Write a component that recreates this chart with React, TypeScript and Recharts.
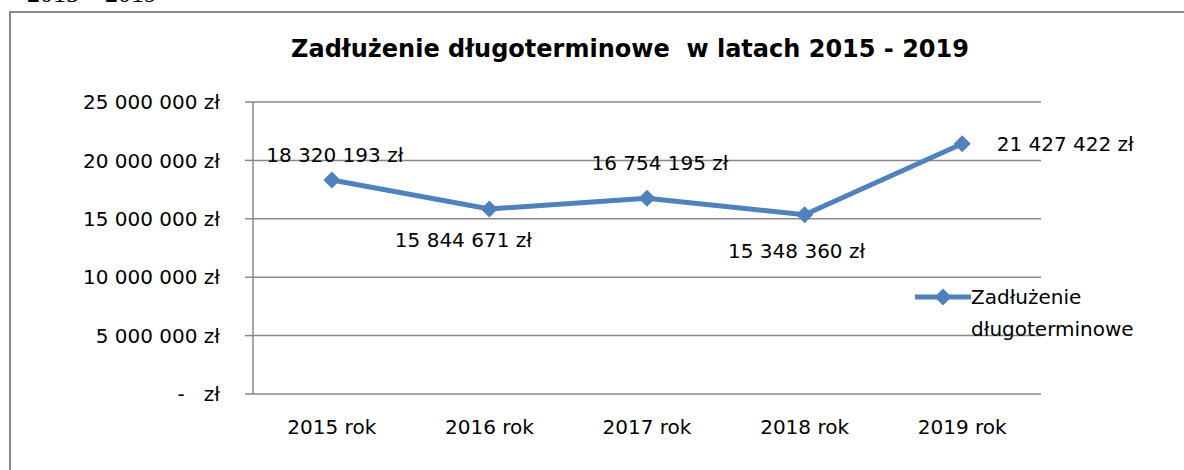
import React from "react"
import { LineChart, Line, XAxis, YAxis, CartesianGrid, Legend, LabelList } from "recharts"

const YEARS = ["2015 rok", "2016 rok", "2017 rok", "2018 rok", "2019 rok"]
const DEBT = [18320193, 15844671, 16754195, 15348360, 21427422]
const Y_TICKS = [0, 5000000, 10000000, 15000000, 20000000, 25000000]
const SERIES_NAME = "Zadłużenie długoterminowe"
const TITLE = "Zadłużenie długoterminowe  w latach 2015 - 2019"

// label positions were dragged by hand in the original, so keep offsets per point
const LABEL_OFFSETS = [
  [3, -25],
  [-26, 31],
  [13, -35],
  [-8, 36],
  [103, 0],
]

const BLUE = "#4f81bd"
const GRID = "#8a8a8a"
const FONT = "'DejaVu Sans', sans-serif"

const data = YEARS.map((year, i) => ({ pos: i + 0.5, year, debt: DEBT[i] }))

const fmt = (v: number) => String(v).replace(/\B(?=(\d{3})+(?!\d))/g, " ")
const yLabel = (v: number) => (v === 0 ? "-\u00a0\u00a0\u00a0zł" : `${fmt(v)} zł`)

function Diamond(props: any) {
  const { cx, cy } = props
  if (cx == null || cy == null) return null
  const r = 8.5
  return <polygon points={`${cx},${cy - r} ${cx + r},${cy} ${cx},${cy + r} ${cx - r},${cy}`} fill={BLUE} />
}

function PointLabel(props: any) {
  const { x, y, index, value } = props
  const [dx, dy] = LABEL_OFFSETS[index] ?? [0, -20]
  return (
    <text x={x + dx} y={y + dy} textAnchor="middle" dominantBaseline="central" fontSize={20} fill="#000">
      {`${fmt(value)} zł`}
    </text>
  )
}

function LegendBox() {
  return (
    <div style={{ display: "flex", alignItems: "flex-start", fontFamily: FONT, fontSize: 20, color: "#000" }}>
      <svg width={56} height={32} style={{ flex: "none" }}>
        <line x1={0} y1={16} x2={56} y2={16} stroke={BLUE} strokeWidth={5} />
        <polygon points="28,7.5 36.5,16 28,24.5 19.5,16" fill={BLUE} />
      </svg>
      <div style={{ lineHeight: "32px", width: 190 }}>{SERIES_NAME}</div>
    </div>
  )
}

export default function App() {
  return (
    <div style={{ position: "absolute", left: 0, top: 0, width: 1184, height: 470, overflow: "hidden", background: "#fff" }}>
      <div style={{ position: "absolute", left: 27, top: -19, fontFamily: "'Liberation Serif', serif", fontSize: 26, lineHeight: "26px", whiteSpace: "pre" }}>
        2015 – 2019
      </div>
      <div style={{ position: "absolute", left: 9, top: 11, width: 1300, height: 600, borderLeft: `2px solid ${GRID}`, borderTop: `2px solid ${GRID}` }} />
      <div style={{ position: "absolute", left: 630, top: 37, transform: "translateX(-50%)", fontFamily: FONT, fontWeight: "bold", fontSize: 24, lineHeight: "24px", whiteSpace: "pre" }}>
        {TITLE}
      </div>
      <div style={{ position: "absolute", left: 0, top: 0, fontFamily: FONT }}>
        <LineChart width={1184} height={470} data={data} margin={{ top: 102, right: 143, left: 8, bottom: 0 }}>
          <CartesianGrid vertical={false} xAxisId="sep" stroke={GRID} strokeWidth={1.5} />
          <XAxis
            xAxisId="sep"
            type="number"
            dataKey="pos"
            domain={[0, 5]}
            allowDataOverflow
            ticks={[0, 1, 2, 3, 4, 5]}
            height={0}
            tickSize={8}
            tickFormatter={() => ""}
            axisLine={{ stroke: GRID, strokeWidth: 1.5 }}
            tickLine={{ stroke: GRID, strokeWidth: 1.5 }}
          />
          <XAxis
            xAxisId="cat"
            type="number"
            dataKey="pos"
            domain={[0, 5]}
            allowDataOverflow
            ticks={[0.5, 1.5, 2.5, 3.5, 4.5]}
            height={76}
            axisLine={false}
            tickLine={false}
            tickSize={0}
            tickMargin={26}
            tickFormatter={(v: number) => YEARS[Math.floor(v)] ?? ""}
            tick={{ fill: "#000", fontSize: 20 }}
          />
          <YAxis
            width={245}
            domain={[0, 25000000]}
            ticks={Y_TICKS}
            tickSize={8}
            tickMargin={25}
            tickFormatter={yLabel}
            tick={{ fill: "#000", fontSize: 20 }}
            axisLine={{ stroke: GRID, strokeWidth: 1.5 }}
            tickLine={{ stroke: GRID, strokeWidth: 1.5 }}
          />
          <Legend
            layout="vertical"
            align="center"
            verticalAlign="middle"
            content={<LegendBox />}
            wrapperStyle={{ left: 915, top: 281, width: 260 }}
          />
          <Line
            xAxisId="cat"
            dataKey="debt"
            name={SERIES_NAME}
            stroke={BLUE}
            strokeWidth={5}
            dot={<Diamond />}
            activeDot={false}
            isAnimationActive={false}
          >
            <LabelList dataKey="debt" content={<PointLabel />} />
          </Line>
        </LineChart>
      </div>
    </div>
  )
}
